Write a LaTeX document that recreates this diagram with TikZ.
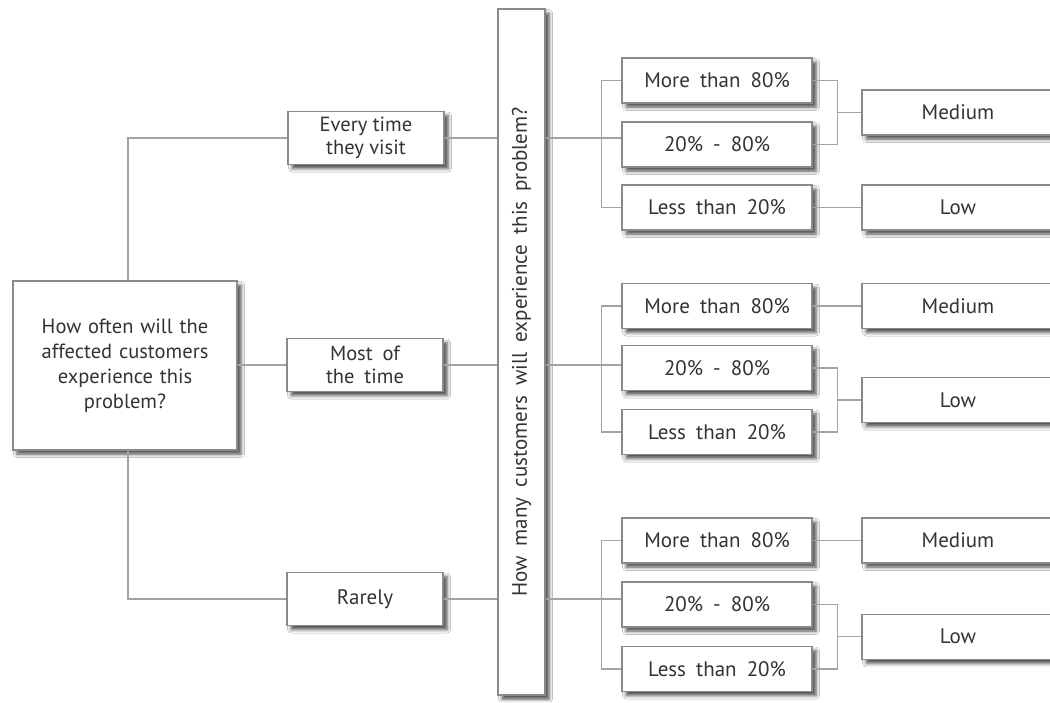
\documentclass[tikz,border=0pt]{standalone}
\usepackage{fontspec}
\setmainfont{PT Sans}
\newfontfamily\widefont[WordSpace=1.8]{PT Sans}
\usetikzlibrary{calc,shadows.blur}
\definecolor{boxline}{HTML}{8A8A8A}
\definecolor{conn}{HTML}{A3A3A3}
\definecolor{txt}{HTML}{333333}
\tikzset{
  box/.style={draw=boxline, line width=1.1pt, fill=white, text=txt, align=center,
    inner sep=2pt, font=\fontsize{21}{24}\selectfont,
    blur shadow={shadow xshift=4pt, shadow yshift=-4pt, shadow blur radius=3.5pt, shadow opacity=70}},
  midbox/.style={box, minimum width=156pt, minimum height=53pt},
  pctbox/.style={box, minimum width=190pt, minimum height=45pt, font=\widefont\fontsize{21}{24}\selectfont},
  resbox/.style={box, minimum width=192pt, minimum height=45pt},
  link/.style={draw=conn, line width=1.4pt},
}
\begin{document}
\begin{tikzpicture}[x=1pt,y=-1pt]
\useasboundingbox (0,0) rectangle (1050,702);
\fill[white] (0,0) rectangle (1050,702);
\clip (0,0) rectangle (1050,702);

% left question
\node[box, minimum width=224pt, minimum height=169pt, text width=214pt, font=\fontsize{20.5}{25}\selectfont] (q1) at (125,365.5)
  {How often will the\\affected customers\\experience this\\problem?};

% frequency boxes
\node[midbox, font=\fontsize{20.5}{23}\selectfont] (e1) at (366,138) {Every time\\they visit};
\node[midbox, font=\widefont\fontsize{20.5}{23}\selectfont] (e2) at (365,365) {Most of\\the time};
\node[midbox] (e3) at (365,599) {Rarely};

% vertical question
\node[box, rotate=90, minimum width=686pt, minimum height=47pt, font=\widefont\fontsize{21}{24}\selectfont] (q2) at (521.5,352)
  {How many customers will experience this problem?};

% group 1
\node[pctbox] (a1) at (717,80.5) {More than 80\%};
\node[pctbox] (b1) at (717,144.5) {20\% - 80\%};
\node[pctbox] (c1) at (717,207.5) {Less than 20\%};
\node[resbox] (r1) at (958,112.5) {Medium};
\node[resbox] (s1) at (958,207.5) {Low};

% group 2
\node[pctbox] (a2) at (717,306) {More than 80\%};
\node[pctbox] (b2) at (717,368) {20\% - 80\%};
\node[pctbox] (c2) at (717,432) {Less than 20\%};
\node[resbox] (r2) at (958,306) {Medium};
\node[resbox] (s2) at (958,400) {Low};

% group 3
\node[pctbox] (a3) at (717,540.5) {More than 80\%};
\node[pctbox] (b3) at (717,604.5) {20\% - 80\%};
\node[pctbox] (c3) at (717,669) {Less than 20\%};
\node[resbox] (r3) at (958,540.5) {Medium};
\node[resbox] (s3) at (958,636.75) {Low};

% left tree
\draw[link] ([xshift=3pt]q1.north) |- (e1.west);
\draw[link] ([xshift=3pt]q1.south) |- (e3.west);
\draw[link] (e2.west -| q1.east) -- (e2.west);

% frequency to vertical question and on to groups
\draw[link] (e1.east) -- (e1.east -| q2.north);
\draw[link] (e2.east) -- (e2.east -| q2.north);
\draw[link] (e3.east) -- (e3.east -| q2.north);
\draw[link] (e1.east -| q2.south) -- (e1.east -| b1.west);
\draw[link] (e2.east -| q2.south) -- (e2.east -| b2.west);
\draw[link] (e3.east -| q2.south) -- (e3.east -| b3.west);

% left brackets
\draw[link] (a1.west) -- ++(-20,0) |- (c1.west);
\draw[link] (a2.west) -- ++(-20,0) |- (c2.west);
\draw[link] (a3.west) -- ++(-20,0) |- (c3.west);

% right side, group 1
\draw[link] (a1.east) -- ++(25,0) |- (b1.east);
\draw[link] ($(r1.west -| a1.east)+(25,0)$) -- (r1.west);
\draw[link] (c1.east) -- (s1.west);
% group 2
\draw[link] (a2.east) -- (r2.west);
\draw[link] (b2.east) -- ++(25,0) |- (c2.east);
\draw[link] ($(s2.west -| b2.east)+(25,0)$) -- (s2.west);
% group 3
\draw[link] (a3.east) -- (r3.west);
\draw[link] (b3.east) -- ++(25,0) |- (c3.east);
\draw[link] ($(s3.west -| b3.east)+(25,0)$) -- (s3.west);

\end{tikzpicture}
\end{document}
